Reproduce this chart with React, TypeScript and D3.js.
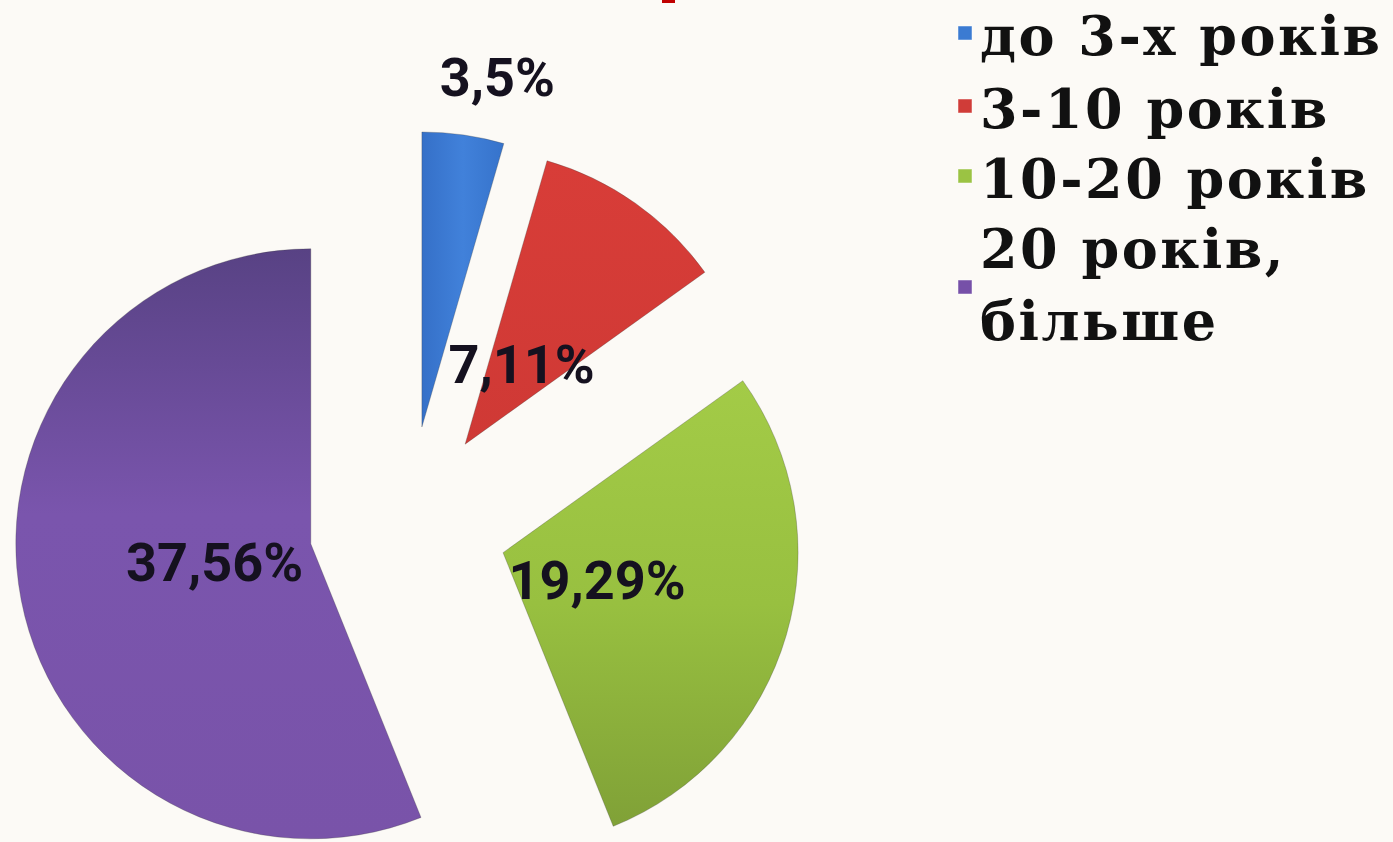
import React from 'react';
import * as d3 from 'd3';

// ---- data ----
const categories: string[] = ['до 3-х років', '3-10 років', '10-20 років', '20 років, більше'];
const legendLines: string[][] = [['до 3-х років'], ['3-10 років'], ['10-20 років'], ['20 років,', 'більше']];
// slice sizes
const sliceValues: number[] = [3.0, 7.11, 19.29, 37.56];
// data labels as printed on the chart
const labelTexts: string[] = ['3,5%', '7,11%', '19,29%', '37,56%'];

const W = 1393;
const H = 842;

const gradStops: [number, string][][] = [
  [[0, '#3570c8'], [0.5, '#4181da'], [1, '#3673cb']],
  [[0, '#d83d38'], [1, '#cf3935']],
  [[0, '#a3cb47'], [0.5, '#98c040'], [1, '#80a137']],
  [[0, '#584284'], [0.45, '#7a55ad'], [1, '#7953a9']],
];
const legendColors = ['#3b7bd2', '#d03c38', '#9bc343', '#7650a8'];
const gradDir: [number, number, number, number][] = [
  [0, 0, 1, 0],
  [0, 0, 0, 1],
  [0, 0, 0, 1],
  [0, 0, 0, 1],
];

export default function App() {
  const cx = 408;
  const cy = 525;
  const R = 295;
  const explode = 99;
  const labelR = 98;

  const pie = d3
    .pie<number>()
    .sort(null)
    .value((d) => d)
    .startAngle(0)
    .endAngle(2 * Math.PI);
  const arcs = pie(sliceValues);
  const arc = d3.arc<d3.PieArcDatum<number>>().innerRadius(0).outerRadius(R);

  return (
    <svg
      width={W}
      height={H}
      viewBox={`0 0 ${W} ${H}`}
      style={{ position: 'absolute', left: 0, top: 0, display: 'block' }}
    >
      <defs>
        {gradStops.map((stops, i) => (
          <linearGradient
            key={i}
            id={`g${i}`}
            x1={gradDir[i][0]}
            y1={gradDir[i][1]}
            x2={gradDir[i][2]}
            y2={gradDir[i][3]}
          >
            {stops.map(([o, c], j) => (
              <stop key={j} offset={o} stopColor={c} />
            ))}
          </linearGradient>
        ))}
      </defs>
      <rect x={0} y={0} width={W} height={H} fill="#fcfaf6" />
      <rect x={662} y={0} width={13} height={3} fill="#c00000" />

      <g transform={`translate(${cx},${cy})`}>
        {arcs.map((a, i) => {
          const mid = (a.startAngle + a.endAngle) / 2;
          const ox = Math.sin(mid) * explode;
          const oy = -Math.cos(mid) * explode;
          return (
            <g key={i} transform={`translate(${ox},${oy})`}>
              <path d={arc(a) || ''} fill={`url(#g${i})`} stroke="rgba(60,60,60,0.35)" strokeWidth={0.8} />
            </g>
          );
        })}
        {arcs.map((a, i) => {
          const mid = (a.startAngle + a.endAngle) / 2;
          const ox = Math.sin(mid) * explode;
          const oy = -Math.cos(mid) * explode;
          const outside = a.endAngle - a.startAngle < 0.35;
          const r = outside ? R + 58 : labelR;
          const lx = ox + Math.sin(mid) * r + (outside ? 26 : 0);
          const ly = oy - Math.cos(mid) * r;
          return (
            <text
              key={`l${i}`}
              x={lx}
              y={ly}
              dy="0.35em"
              textAnchor="middle"
              fontFamily="Roboto, 'Open Sans', sans-serif"
              fontWeight={700}
              fontSize={54}
              fill="#15111f"
            >
              {labelTexts[i]}
            </text>
          );
        })}
      </g>

      <g>
        {categories.map((c, i) => {
          const baseY = [55, 128, 198, 268][i];
          const lines = legendLines[i];
          const sqY = lines.length > 1 ? baseY + 19 : baseY - 22;
          return (
            <g key={c}>
              <rect x={958} y={sqY - 7} width={14} height={14} fill={legendColors[i]} stroke="rgba(255,255,255,0.6)" strokeWidth={0.8} />
              {lines.map((t, j) => (
                <text
                  key={j}
                  x={980}
                  y={baseY + j * 72}
                  fontFamily="'DejaVu Serif', 'Liberation Serif', serif"
                  fontWeight={700}
                  fontSize={54}
                  letterSpacing={2.5}
                  fill="#111"
                >
                  {t}
                </text>
              ))}
            </g>
          );
        })}
      </g>
    </svg>
  );
}
